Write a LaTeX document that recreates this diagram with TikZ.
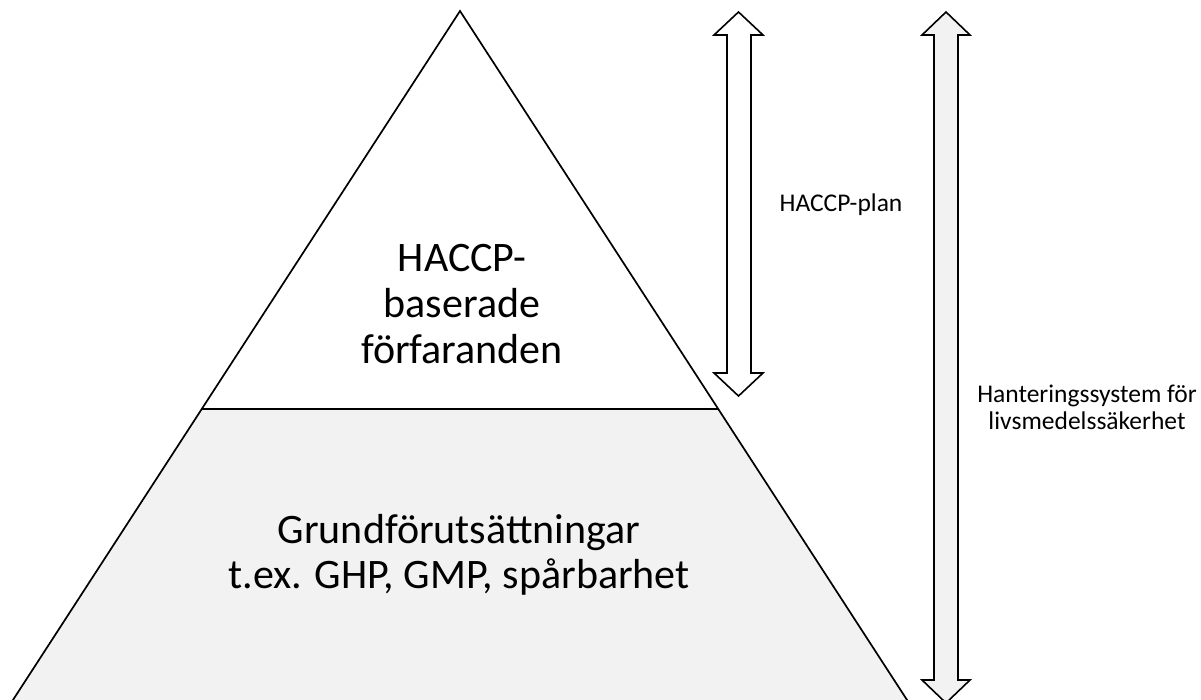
\documentclass[tikz,border=0pt]{standalone}
\usepackage{fontspec}
\setmainfont{Carlito}
\definecolor{lightfill}{HTML}{F2F2F2}
\begin{document}
\begin{tikzpicture}[x=1pt,y=-1pt,
  edge/.style={draw=black,line width=1.7pt,line join=miter},
  dblarrow/.style={draw=black,line width=1.6pt,line join=miter},
  bigtext/.style={font=\fontsize{42}{45}\selectfont,align=center,anchor=base},
  smalltext/.style={font=\fontsize{25.5}{27}\selectfont,align=center,anchor=base}]
\useasboundingbox (0,0) rectangle (1201,700);
\clip (0,0) rectangle (1201,700);
% coordinates of the pyramid
\coordinate (apex) at (460,11);
\coordinate (ml) at (201.8,409);
\coordinate (mr) at (718.2,409);
\coordinate (bl) at (9.7,705);
\coordinate (br) at (910.3,705);
% lower part
\fill[lightfill] (ml) -- (mr) -- (br) -- (bl) -- cycle;
\draw[edge] (ml) -- (mr);
\draw[edge] (bl) -- (apex) -- (br);
% arrow 1 (HACCP-plan)
\draw[dblarrow,fill=white] (738.5,12) -- (763,35) -- (751,35) -- (751,373) -- (763,373)
  -- (738.5,396) -- (714,373) -- (727,373) -- (727,35) -- (714,35) -- cycle;
% arrow 2
\draw[dblarrow,fill=lightfill] (946,12) -- (970,35) -- (958,35) -- (958,680) -- (970,680)
  -- (946,703) -- (922,680) -- (934,680) -- (934,35) -- (922,35) -- cycle;
% texts
\node[bigtext] (t1) at (462,272) {HACCP-};
\node[bigtext] (t2) at (462,318) {baserade};
\node[bigtext] (t3) at (462,363) {förfaranden};
\node[bigtext] (g1) at (459,543) {Grundförutsättningar};
\node[bigtext] (g2) at (459,588) {t.ex. GHP, GMP, spårbarhet};
\node[smalltext] (hp) at (841,212) {HACCP-plan};
\node[smalltext] (hs1) at (1087,402) {Hanteringssystem för};
\node[smalltext] (hs2) at (1087,429) {livsmedelssäkerhet};
\end{tikzpicture}
\end{document}
